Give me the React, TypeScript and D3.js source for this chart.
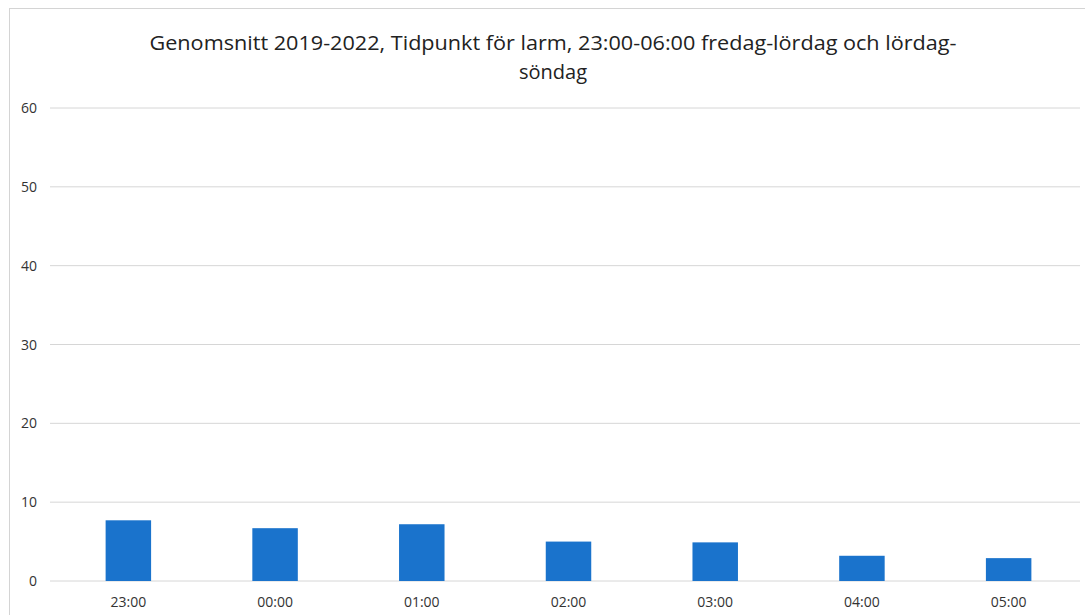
import React from "react";
import * as d3 from "d3";

const categories = ["23:00", "00:00", "01:00", "02:00", "03:00", "04:00", "05:00"];
const values = [7.7, 6.7, 7.2, 5.0, 4.9, 3.2, 2.9];
const yTicks = [0, 10, 20, 30, 40, 50, 60];
const titleLines = [
  "Genomsnitt 2019-2022, Tidpunkt för larm, 23:00-06:00 fredag-lördag och lördag-",
  "söndag",
];

export default function App() {
  const W = 1085, H = 615;
  const left = 55, right = 1082, top = 108, bottom = 581;
  const x = d3.scaleBand<string>().domain(categories).range([left, right]).paddingInner(0.69).paddingOuter(0.345);
  const y = d3.scaleLinear().domain([0, 60]).range([bottom, top]);
  const font = "'Open Sans', sans-serif";
  return (
    <svg width={W} height={H} style={{ position: "absolute", left: 0, top: 0, background: "#fff" }}>
      <rect x={9.5} y={8.5} width={W + 10} height={H + 10} fill="#fff" stroke="#d4d4d4" strokeWidth={1} />
      {titleLines.map((t, i) => (
        <text key={i} x={553} y={50 + i * 29} textAnchor="middle" fontFamily={font} fontSize={20} fill="#222"
          textLength={i === 0 ? 807 : undefined} lengthAdjust="spacingAndGlyphs">{t}</text>
      ))}
      {yTicks.map((t) => (
        <g key={t}>
          <line x1={50} x2={1080} y1={y(t)} y2={y(t)} stroke="#d6d6d6" strokeWidth={1} />
          <text x={37} y={y(t) + 5} textAnchor="end" fontFamily={font} fontSize={14} fill="#333">{t}</text>
        </g>
      ))}
      {categories.map((c, i) => (
        <rect key={c} x={x(c)} y={y(values[i])} width={x.bandwidth()} height={y(0) - y(values[i])} fill="#1a73cc" />
      ))}
      {categories.map((c) => (
        <text key={c} x={(x(c) as number) + x.bandwidth() / 2} y={607} textAnchor="middle" fontFamily={font} fontSize={14} fill="#333">{c}</text>
      ))}
    </svg>
  );
}
